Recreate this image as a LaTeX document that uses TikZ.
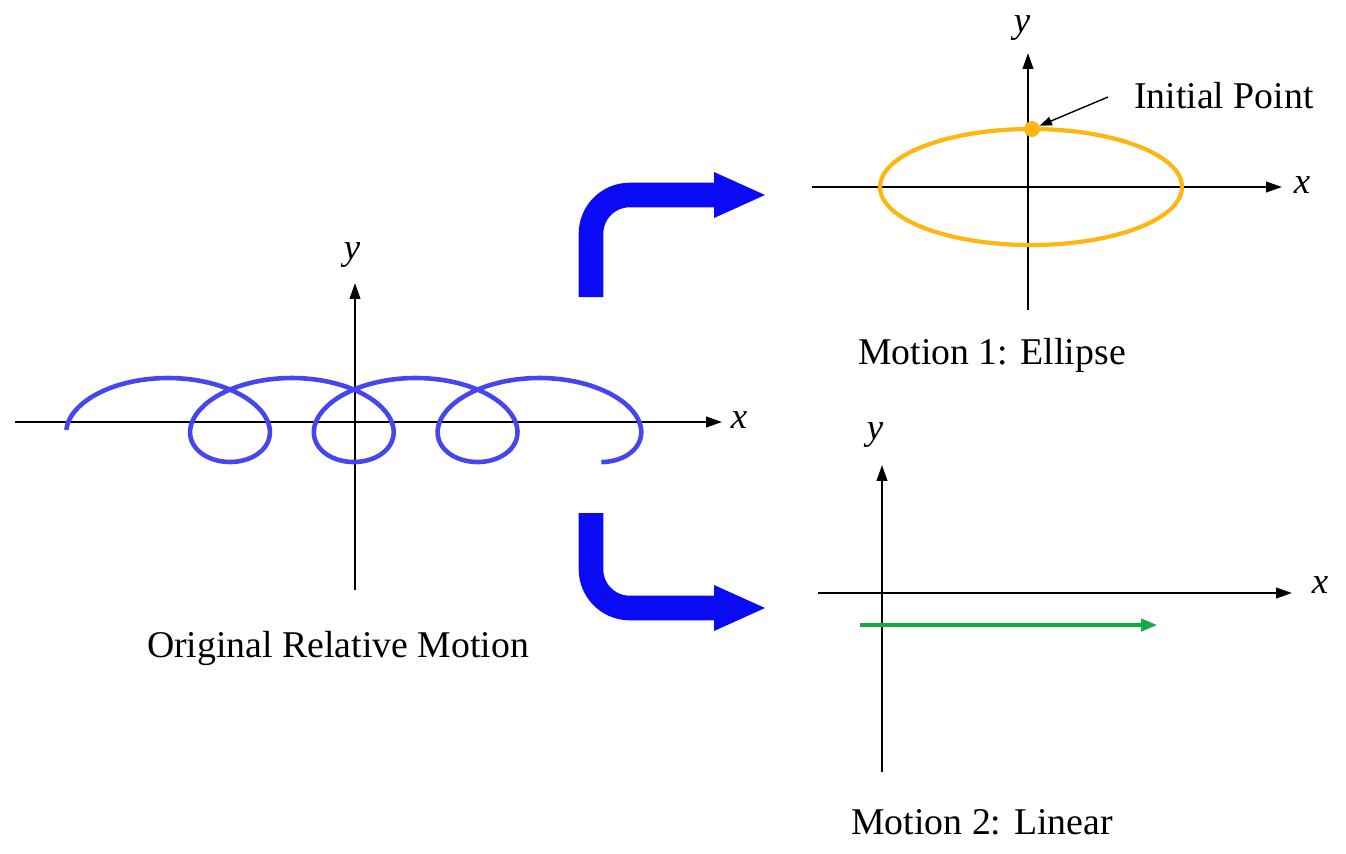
\documentclass[tikz,border=0pt]{standalone}
\usepackage{fontspec}
\setmainfont{Liberation Serif}
\usetikzlibrary{arrows.meta}
\definecolor{orng}{RGB}{255,182,18}
\definecolor{grn}{RGB}{20,170,70}
\definecolor{bl}{RGB}{10,10,245}
\definecolor{cbl}{RGB}{70,70,240}
\begin{document}
\begin{tikzpicture}[x=0.02cm,y=-0.02cm,
  ax/.style={line width=1.1pt,-{Triangle[length=9pt,width=6pt]}},
  lab/.style={font=\fontsize{21.5}{24}\selectfont},
  alab/.style={font=\fontsize{21}{23}\selectfont\itshape},
  big/.style={bl,line width=14pt,rounded corners=22pt}]
\useasboundingbox (0,0) rectangle (1346,853);
% left plot
\coordinate (lx0) at (15,422); \coordinate (lx1) at (722,422);
\coordinate (ly0) at (355,590); \coordinate (ly1) at (355,283);
\draw[ax] (lx0) -- (lx1);
\draw[ax] (ly0) -- (ly1);
\node[alab] (lxl) at (739,420) {x};
\node[alab] (lyl) at (352,255) {y};
\draw[cbl,line width=2.6pt] plot[domain=-4.95:18.85,samples=400,smooth]
  ({230+19.7*\x - 68*sin(\x r)},{420+42*cos(\x r)});
\node[lab] (c0) at (338,648) {Original Relative Motion};
% top right
\coordinate (ax0) at (812,187); \coordinate (ax1) at (1282,187);
\coordinate (ay0) at (1028,310); \coordinate (ay1) at (1028,53);
\draw[ax] (ax0) -- (ax1);
\draw[ax] (ay0) -- (ay1);
\node[alab] (axl) at (1302,185) {x};
\node[alab] (ayl) at (1022,28) {y};
\draw[orng,line width=2.4pt] (1031,187) ellipse [x radius=151,y radius=58];
\node[circle,fill=orng,inner sep=0pt,minimum size=9pt] (ip) at (1032,129) {};
\node[lab,anchor=west] (ipl) at (1128,96) {Initial Point};
\draw[line width=0.8pt,-{Triangle[length=7pt,width=5pt]}] (1108,97) -- (ip);
\node[lab] (c1) at (992,355) {Motion 1: Ellipse};
% bottom right
\coordinate (bx0) at (818,593); \coordinate (bx1) at (1292,593);
\coordinate (by0) at (882,772); \coordinate (by1) at (882,465);
\draw[ax] (bx0) -- (bx1);
\draw[ax] (by0) -- (by1);
\node[alab] (bxl) at (1320,585) {x};
\node[alab] (byl) at (875,435) {y};
\coordinate (g0) at (860,625); \coordinate (g1) at (1157,625);
\draw[grn,line width=1.8pt,-{Triangle[length=9pt,width=7pt]}] (g0) -- (g1);
\node[lab] (c2) at (982,822) {Motion 2: Linear};
% big arrows
\coordinate (t0) at (591,297); \coordinate (t1) at (591,195); \coordinate (t2) at (718,195);
\draw[big] (t0) -- (t1) -- (t2);
\fill[bl] (714,172) -- (765,195) -- (714,218) -- cycle;
\coordinate (u0) at (591,513); \coordinate (u1) at (591,608); \coordinate (u2) at (718,608);
\draw[big] (u0) -- (u1) -- (u2);
\fill[bl] (714,585) -- (765,608) -- (714,631) -- cycle;
\end{tikzpicture}
\end{document}
